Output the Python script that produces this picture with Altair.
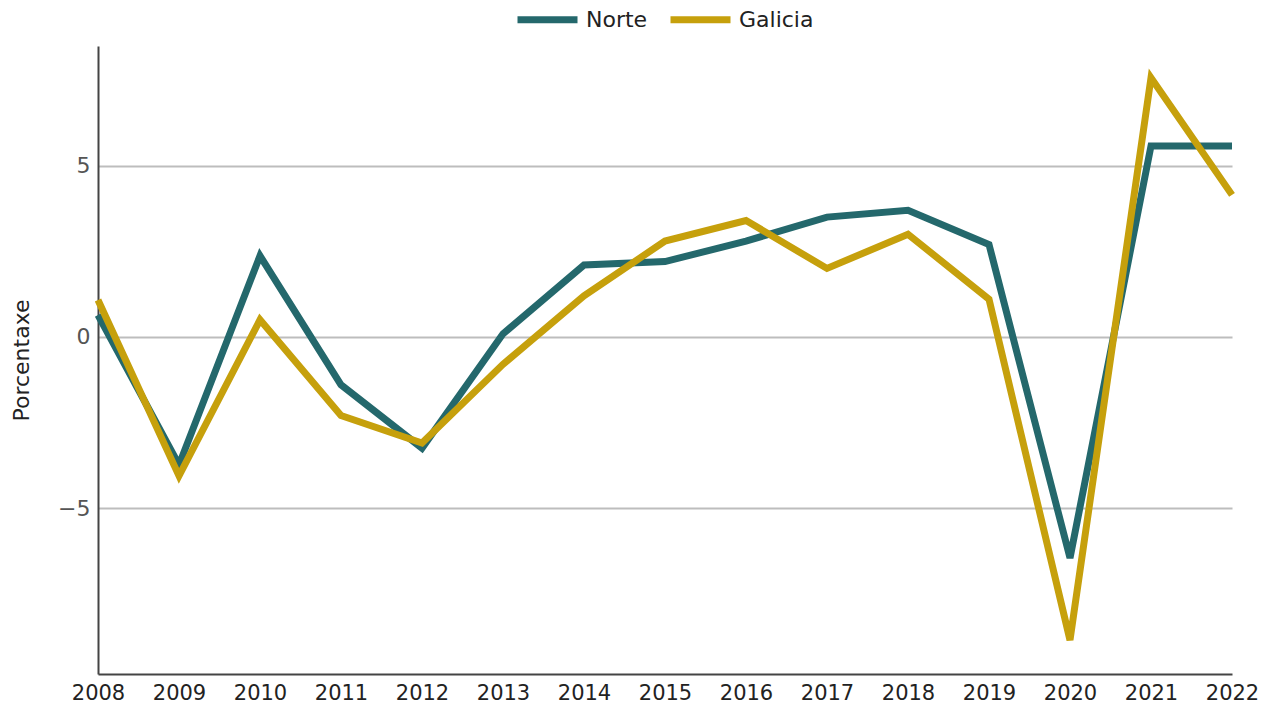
import altair as alt
import pandas as pd

years = list(range(2008, 2023))
norte = [0.64, -3.74, 2.37, -1.4, -3.25, 0.09, 2.1, 2.2, 2.8, 3.5, 3.7, 2.7, -6.46, 5.58, 5.58]
galicia = [1.08, -4.06, 0.5, -2.3, -3.1, -0.8, 1.2, 2.8, 3.4, 2.0, 3.0, 1.1, -8.86, 7.57, 4.15]
series = ["Norte", "Galicia"]
colors = ["#24686C", "#C6A00C"]

rows = []
for name, vals in zip(series, [norte, galicia]):
    for y, v in zip(years, vals):
        rows.append({"year": y, "value": v, "serie": name})
df = pd.DataFrame(rows)

FONT = "DejaVu Sans"

chart = alt.Chart(df).mark_line(strokeWidth=7, strokeCap="butt", strokeJoin="miter").encode(
    x=alt.X("year:Q", scale=alt.Scale(domain=[2008, 2022], nice=False, zero=False),
            axis=alt.Axis(values=years, format="d", title=None, grid=False, ticks=False,
                          labelFlush=False, labelPadding=8, labelFontSize=21, labelColor="#222",
                          domainColor="#444", domainWidth=2, labelFont=FONT)),
    y=alt.Y("value:Q", scale=alt.Scale(domain=[-9.85, 8.5], nice=False, zero=False),
            axis=alt.Axis(values=[-5, 0, 5], title="Porcentaxe", grid=True, gridColor="#bdbdbd",
                          gridWidth=2, ticks=False, labelPadding=8, labelFontSize=22,
                          labelColor="#555", domainColor="#444", domainWidth=2,
                          titleFontSize=22, titleFontWeight="normal", titleColor="#222",
                          titleFont=FONT, labelFont=FONT, titlePadding=24)),
    color=alt.Color("serie:N", sort=series,
                    scale=alt.Scale(domain=series, range=colors),
                    legend=alt.Legend(title=None, orient="none", direction="horizontal",
                                      legendX=416, legendY=-60,
                                      symbolType="stroke", symbolSize=3600, symbolStrokeWidth=7,
                                      labelFontSize=22, labelFont=FONT, labelColor="#222",
                                      labelOffset=5, columnPadding=8, symbolOffset=0)),
).properties(
    width=1134, height=628,
    autosize=alt.AutoSizeParams(type="none"),
    padding={"left": 90, "top": 38, "right": 30, "bottom": 30},
).configure_view(stroke=None)

chart.save("out.html", embed_options={"renderer": "svg", "actions": False})
